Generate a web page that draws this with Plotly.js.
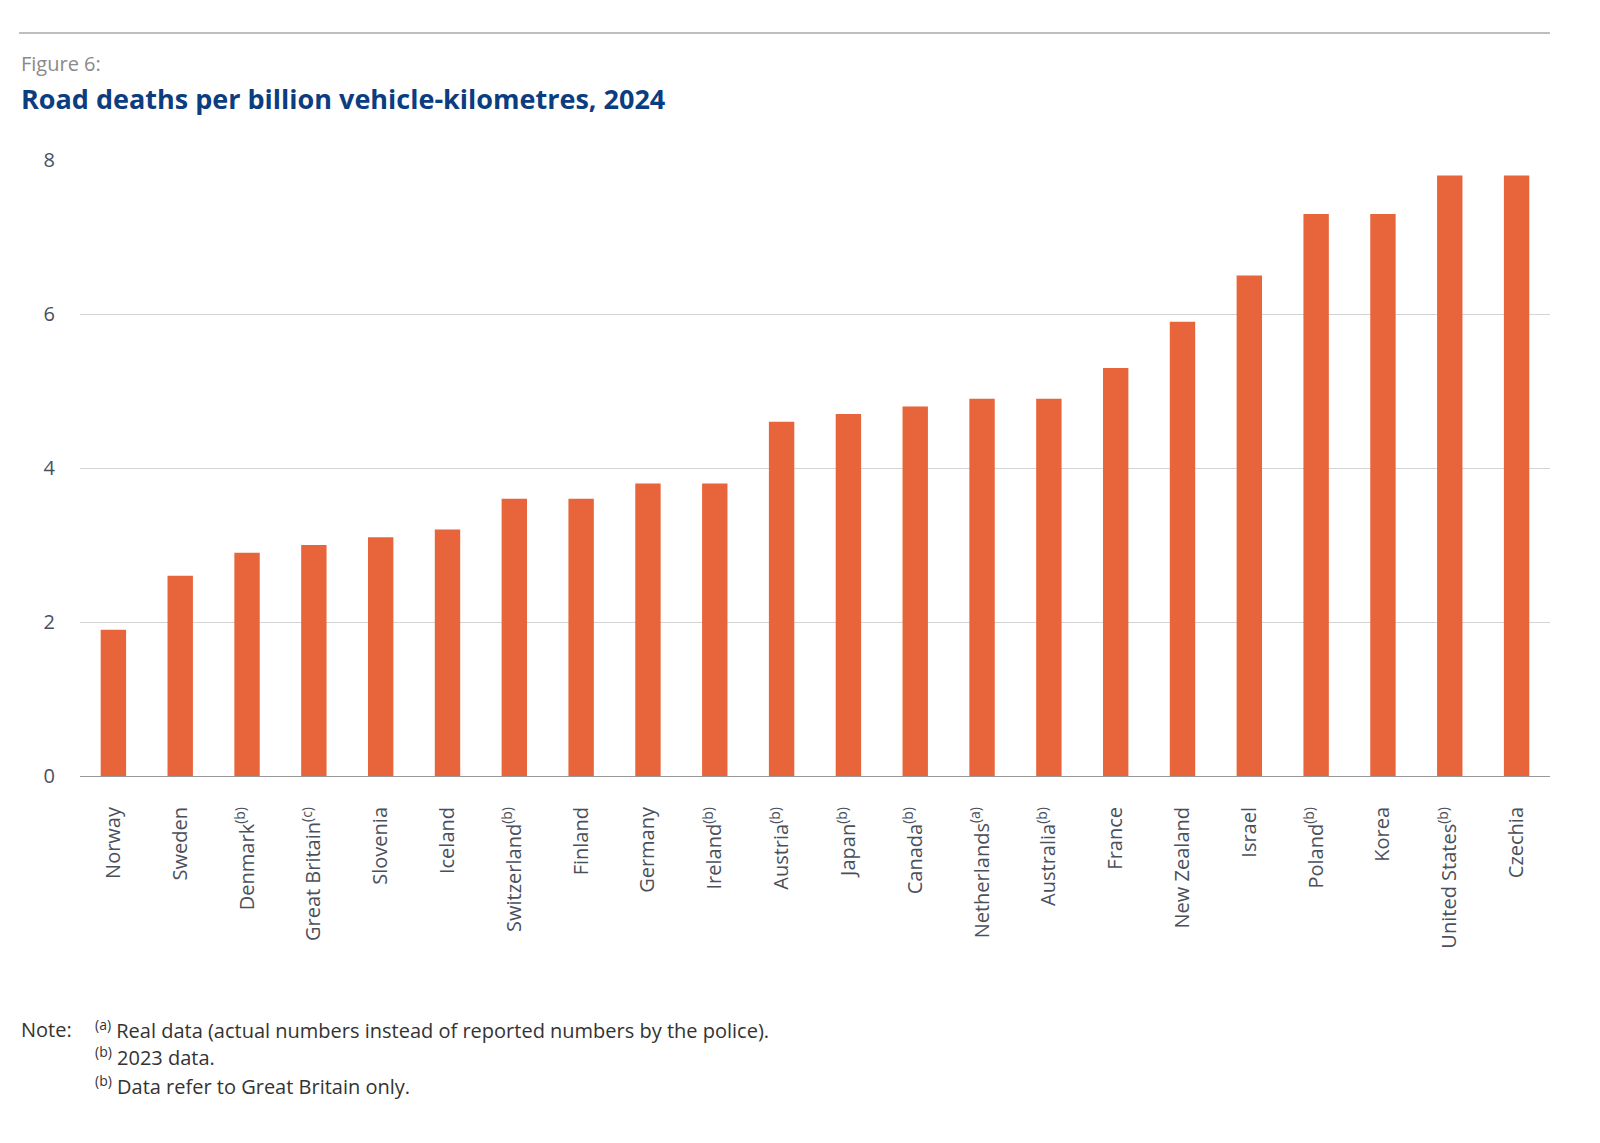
<!DOCTYPE html>
<html><head><meta charset="utf-8">
<script src="https://cdn.plot.ly/plotly-3.0.1.min.js"></script>
<style>body{margin:0;background:#fff}</style>
</head><body>
<div id="chart" style="width:1600px;height:1143px"></div>
<script>
const countries = ["Norway","Sweden","Denmark<sup>(b)</sup>","Great Britain<sup>(c)</sup>","Slovenia","Iceland",
  "Switzerland<sup>(b)</sup>","Finland","Germany","Ireland<sup>(b)</sup>","Austria<sup>(b)</sup>","Japan<sup>(b)</sup>",
  "Canada<sup>(b)</sup>","Netherlands<sup>(a)</sup>","Australia<sup>(b)</sup>","France","New Zealand","Israel",
  "Poland<sup>(b)</sup>","Korea","United States<sup>(b)</sup>","Czechia"];
const deaths = [1.9,2.6,2.9,3.0,3.1,3.2,3.6,3.6,3.8,3.8,4.6,4.7,4.8,4.9,4.9,5.3,5.9,6.5,7.3,7.3,7.8,7.8];

const grey = '#4a4f5c';
const xl = -0.0415;

Plotly.newPlot('chart', [{
  type: 'bar', x: countries, y: deaths,
  marker: {color: '#e8643a'}, hoverinfo: 'x+y'
}], {
  width: 1600, height: 1143,
  margin: {l: 80, r: 50, t: 160, b: 367},
  font: {family: 'Open Sans, Noto Sans, sans-serif', color: grey, size: 20},
  bargap: 0.62,
  showlegend: false,
  xaxis: {tickangle: -90, tickfont: {size: 20, color: grey}, showline: true, linecolor: '#999',
          ticks: 'outside', ticklen: 22, tickcolor: 'rgba(0,0,0,0)'},
  yaxis: {range: [0, 8], dtick: 2, gridcolor: '#d4d4d4', zeroline: false, tickfont: {size: 20, color: grey},
          ticks: 'outside', ticklen: 20, tickcolor: 'rgba(0,0,0,0)'},
  shapes: [{type: 'line', xref: 'paper', yref: 'paper', x0: xl, x1: 1, y0: 1.206, y1: 1.206, line: {color: '#aaa', width: 1.5}}],
  annotations: [
    {xref: 'paper', yref: 'paper', x: xl, y: 1.157, xanchor: 'left', yanchor: 'middle', showarrow: false,
     text: 'Figure 6:', font: {size: 20, color: '#8a8a8a'}},
    {xref: 'paper', yref: 'paper', x: xl, y: 1.10, xanchor: 'left', yanchor: 'middle', showarrow: false,
     text: '<b>Road deaths per billion vehicle-kilometres, 2024</b>', font: {size: 27, color: '#0b3d80'}},
    {xref: 'paper', yref: 'paper', x: xl, y: -0.411, xanchor: 'left', yanchor: 'middle', showarrow: false,
     text: 'Note:', font: {size: 20, color: '#333'}},
    {xref: 'paper', yref: 'paper', x: 0.009, y: -0.411, xanchor: 'left', yanchor: 'middle', showarrow: false,
     text: '<sup>(a)</sup> Real data (actual numbers instead of reported numbers by the police).', font: {size: 20, color: '#333'}},
    {xref: 'paper', yref: 'paper', x: 0.009, y: -0.456, xanchor: 'left', yanchor: 'middle', showarrow: false,
     text: '<sup>(b)</sup> 2023 data.', font: {size: 20, color: '#333'}},
    {xref: 'paper', yref: 'paper', x: 0.009, y: -0.502, xanchor: 'left', yanchor: 'middle', showarrow: false,
     text: '<sup>(b)</sup> Data refer to Great Britain only.', font: {size: 20, color: '#333'}}
  ]
}, {displayModeBar: false});
</script>
</body></html>
